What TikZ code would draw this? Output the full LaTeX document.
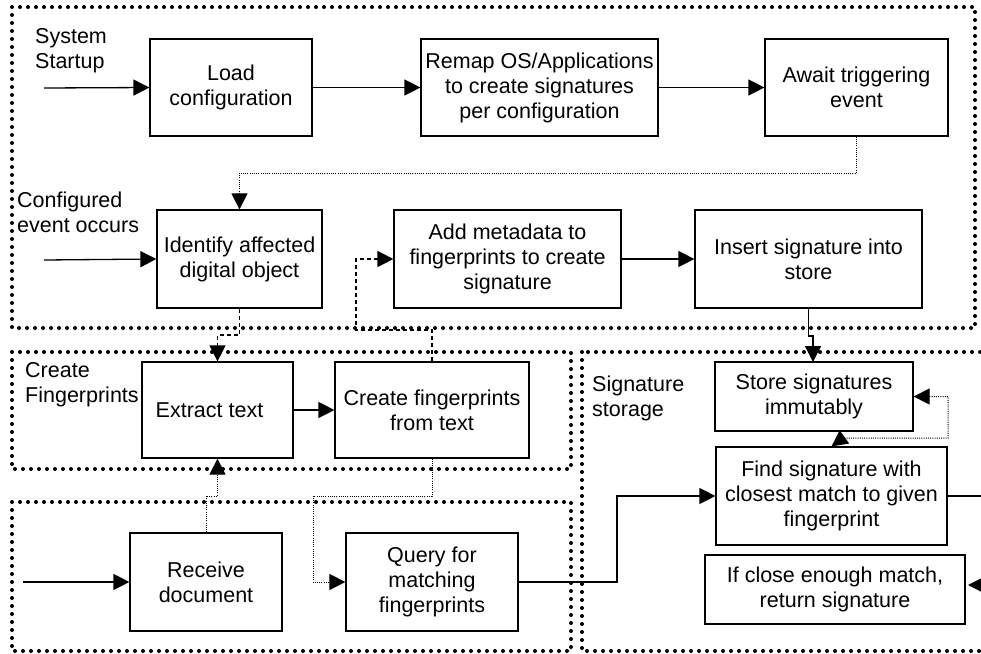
\documentclass[tikz,border=0pt]{standalone}
\usepackage{fontspec}
\setmainfont{Liberation Sans}
\usetikzlibrary{arrows.meta}
\begin{document}
\begin{tikzpicture}[x=1pt,y=-1pt,
  font=\fontsize{21.5}{25}\selectfont,
  box/.style={draw, line width=1.2pt, align=center, inner sep=0pt},
  frame/.style={line width=4pt, line cap=round, dash pattern=on 0pt off 8pt},
  conn/.style={line width=1.3pt},
  dotconn/.style={line width=1pt, dash pattern=on 1pt off 1.2pt},
  dashconn/.style={line width=1.2pt, dash pattern=on 4pt off 3pt},
  tip/.style={-{Triangle[length=16pt,width=16pt]}},
  lbl/.style={align=left, inner sep=0pt, anchor=west}
]
\path[use as bounding box] (0,0) rectangle (981,653);
\clip (0,0) rectangle (981,653);
% frames
\draw[frame] (12,7) rectangle (975,328);
\draw[frame] (12,352) rectangle (571,469);
\draw[frame] (12,502) rectangle (571,651);
\draw[frame] (582,352) rectangle (1010,651);
% labels
\node[lbl] (lstart) at (35,50.5) {System\\Startup};
\node[lbl] (lconf) at (17,212) {Configured\\event occurs};
\node[lbl] (lcreate) at (25,385) {Create\\Fingerprints};
\node[lbl] (lsig) at (592,398) {Signature\\storage};
% boxes
\node[box, minimum width=162pt, minimum height=97pt] (load) at (231,87.5) {Load\\configuration};
\node[box, minimum width=237pt, minimum height=97pt] (remap) at (539.5,87.5) {Remap OS/Applications\\to create signatures\\per configuration};
\node[box, minimum width=183pt, minimum height=97pt] (await) at (856.5,87.5) {Await triggering\\event};
\node[box, minimum width=165pt, minimum height=98pt] (ident) at (239.5,259) {Identify affected\\digital object};
\node[box, minimum width=227pt, minimum height=98pt] (addmeta) at (507.5,259) {Add metadata to\\fingerprints to create\\signature};
\node[box, minimum width=227pt, minimum height=98pt] (insert) at (808.5,259) {Insert signature into\\store};
\node[box, minimum width=151pt, minimum height=96pt] (extract) at (217.5,410) {Extract text\hspace{16pt}};
\node[box, minimum width=194pt, minimum height=96pt] (createfp) at (432,410) {Create fingerprints\\from text};
\node[box, minimum width=152pt, minimum height=98pt] (receive) at (206,582) {Receive\\document};
\node[box, minimum width=172pt, minimum height=98pt] (query) at (432,582) {Query for\\matching\\fingerprints};
\node[box, minimum width=198pt, minimum height=69pt] (store) at (814,396.5) {Store signatures\\immutably};
\node[box, minimum width=231pt, minimum height=98pt] (find) at (831.5,496) {Find signature with\\closest match to given\\fingerprint};
\node[box, minimum width=260pt, minimum height=69pt] (ifclose) at (835,589.5) {If close enough match,\\return signature};
% entry points
\coordinate (in1) at (44,88);
\coordinate (in2) at (44,260);
\coordinate (in3) at (23,582);
\coordinate (out1) at (1010,496);
% connectors
\draw[conn,tip] (in1) -- (load.west);
\draw[conn,tip] (load.east) -- (remap.west);
\draw[conn,tip] (remap.east) -- (await.west);
\draw[dotconn,tip] (await.south) -- (856.5,173) -- (239.5,173) -- (ident.north);
\draw[conn,tip] (in2) -- (ident.west);
\draw[dashconn,tip] (ident.south) -- (239.5,335) -- (217.5,335) -- (extract.north);
\draw[conn,tip] (extract.east) -- (createfp.west);
\draw[dashconn,tip] (createfp.north) -- (432,330) -- (356,330) -- (356,259) -- (addmeta.west);
\draw[conn,tip] (addmeta.east) -- (insert.west);
\draw[conn,tip] (insert.south) -- (808.5,336) -- (813,336) -- (813,362);
\draw[conn,tip] (in3) -- (receive.west);
\draw[dotconn,tip] (receive.north) -- (206,496) -- (217.5,496) -- (extract.south);
\draw[dotconn,tip] (createfp.south) -- (432,496) -- (313,496) -- (313,582) -- (query.west);
\draw[conn,tip] (query.east) -- (617,582) -- (617,496) -- (find.west);
\draw[dotconn,{Triangle[length=16pt,width=16pt]}-{Triangle[length=16pt,width=16pt]}] (store.east) -- (948,396.5) -- (948,438) -- (843,438) -- (find.north);
\draw[conn,tip] (find.east) -- (out1) -- (1010,585) -- (968,585);
\end{tikzpicture}
\end{document}
